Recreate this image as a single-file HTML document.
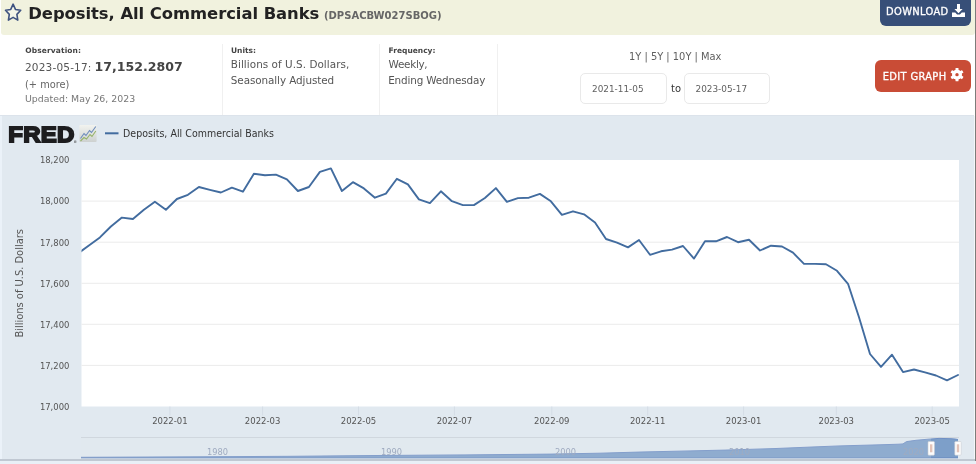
<!DOCTYPE html>
<html><head><meta charset="utf-8"><title>Deposits, All Commercial Banks</title>
<style>
html,body{margin:0;padding:0;}
body{width:976px;height:464px;overflow:hidden;background:#fff;position:relative;font-family:"DejaVu Sans","Liberation Sans",sans-serif;color:#333;}
.abs{position:absolute;}
#hdr{left:1px;top:0;width:974px;height:34.5px;background:#f1f2de;border-radius:0 0 3px 3px;}
#dl{left:879.5px;top:0;width:91px;height:25.8px;background:#374f78;border-radius:0 0 6px 6px;}
#eg{left:875px;top:60px;width:95.5px;height:32px;background:#c94c36;border-radius:6px;}
.vdiv{position:absolute;top:44px;width:1px;height:72px;background:#f0f0f0;}
.inp{position:absolute;top:73px;height:29px;border:1px solid #e9e9e9;border-radius:5px;background:#fff;box-sizing:content-box;}
#chart{left:0;top:115.2px;width:974px;height:344.3px;background:#e1e9f0;}
</style></head><body>
<div class="abs" id="hdr"></div>
<div class="abs" id="dl"></div>
<div class="abs" id="eg"></div>
<div class="vdiv" style="left:222px"></div>
<div class="vdiv" style="left:378.5px"></div>
<div class="vdiv" style="left:497px"></div>
<div class="inp" style="left:580px;width:84.5px"></div>
<div class="inp" style="left:683.5px;width:84px"></div>
<div class="abs" id="chart"></div>
<div class="abs" style="left:0;top:115.4px;width:974px;height:1px;background:#dce3eb"></div>
<svg class="abs" id="svg" style="left:0;top:0" width="976" height="464" viewBox="0 0 976 464">
<path id="star" transform="translate(13.1,13.0)" d="M0.00 -8.80 L2.35 -3.56 L7.61 -2.72 L3.80 1.36 L4.70 7.12 L0.00 4.40 L-4.70 7.12 L-3.80 1.36 L-7.61 -2.72 L-2.35 -3.56 Z" fill="#f3f5e8" stroke="#3f5380" stroke-width="1.6" stroke-linejoin="round"/>
<g id="dlicon" transform="translate(952,4)" fill="#fff"><path d="M5 0h3v5h2.6L6.5 9.2 2.4 5H5z"/><path d="M0 8.6h3.2l1.9 1.9h2.8l1.9-1.9H13V13H0z"/></g>
<g id="gear" transform="translate(957,74.65)"><g fill="#fff"><circle r="5"/><rect x="-1.5" y="-6.7" width="3" height="13.4" rx="0.5"/><rect x="-1.5" y="-6.7" width="3" height="13.4" rx="0.5" transform="rotate(60)"/><rect x="-1.5" y="-6.7" width="3" height="13.4" rx="0.5" transform="rotate(120)"/></g><circle r="1.7" fill="#c94c36"/></g>
<g id="ficon"><defs><linearGradient id="fg" x1="0" y1="0" x2="0" y2="1"><stop offset="0" stop-color="#f2f3ef"/><stop offset="1" stop-color="#cdd1d0"/></linearGradient></defs><rect x="79.3" y="124.9" width="17.3" height="17.2" rx="1" fill="url(#fg)"/><polyline points="80.5,138.5 84,133.5 86,135.5 89.5,130.5 91.5,132.5 95.8,126.5" fill="none" stroke="#6d8cbb" stroke-width="1.1"/><polyline points="80.5,141 84,137.5 86.5,139 90,134.5 92,136.5 95.8,131" fill="none" stroke="#96b36a" stroke-width="1.1"/></g>
<rect x="81.5" y="160" width="877.5" height="246.5" fill="#fff"/>
<rect x="81.5" y="200.6" width="877.5" height="1" fill="#ebebeb"/><rect x="81.5" y="241.7" width="877.5" height="1" fill="#ebebeb"/><rect x="81.5" y="282.8" width="877.5" height="1" fill="#ebebeb"/><rect x="81.5" y="323.8" width="877.5" height="1" fill="#ebebeb"/><rect x="81.5" y="364.9" width="877.5" height="1" fill="#ebebeb"/>
<text x="69.4" y="163.3" text-anchor="end" id="yl0" style='font-family:"DejaVu Sans Condensed","Liberation Sans",sans-serif;font-size:9.4px;font-weight:normal;fill:#555;'>18,200</text>
<text x="69.4" y="204.4" text-anchor="end" id="yl1" style='font-family:"DejaVu Sans Condensed","Liberation Sans",sans-serif;font-size:9.4px;font-weight:normal;fill:#555;'>18,000</text>
<text x="69.4" y="245.5" text-anchor="end" id="yl2" style='font-family:"DejaVu Sans Condensed","Liberation Sans",sans-serif;font-size:9.4px;font-weight:normal;fill:#555;'>17,800</text>
<text x="69.4" y="286.6" text-anchor="end" id="yl3" style='font-family:"DejaVu Sans Condensed","Liberation Sans",sans-serif;font-size:9.4px;font-weight:normal;fill:#555;'>17,600</text>
<text x="69.4" y="327.6" text-anchor="end" id="yl4" style='font-family:"DejaVu Sans Condensed","Liberation Sans",sans-serif;font-size:9.4px;font-weight:normal;fill:#555;'>17,400</text>
<text x="69.4" y="368.7" text-anchor="end" id="yl5" style='font-family:"DejaVu Sans Condensed","Liberation Sans",sans-serif;font-size:9.4px;font-weight:normal;fill:#555;'>17,200</text>
<text x="69.4" y="409.8" text-anchor="end" id="yl6" style='font-family:"DejaVu Sans Condensed","Liberation Sans",sans-serif;font-size:9.4px;font-weight:normal;fill:#555;'>17,000</text>

<rect x="169.4" y="406.5" width="1" height="9" fill="#d5dde6"/><text x="169.9" y="424.4" text-anchor="middle" id="xl0" style='font-family:"DejaVu Sans Condensed","Liberation Sans",sans-serif;font-size:9.45px;font-weight:normal;fill:#555;'>2022-01</text>
<rect x="262.1" y="406.5" width="1" height="9" fill="#d5dde6"/><text x="262.6" y="424.4" text-anchor="middle" id="xl1" style='font-family:"DejaVu Sans Condensed","Liberation Sans",sans-serif;font-size:9.45px;font-weight:normal;fill:#555;'>2022-03</text>
<rect x="358.0" y="406.5" width="1" height="9" fill="#d5dde6"/><text x="358.5" y="424.4" text-anchor="middle" id="xl2" style='font-family:"DejaVu Sans Condensed","Liberation Sans",sans-serif;font-size:9.45px;font-weight:normal;fill:#555;'>2022-05</text>
<rect x="453.9" y="406.5" width="1" height="9" fill="#d5dde6"/><text x="454.4" y="424.4" text-anchor="middle" id="xl3" style='font-family:"DejaVu Sans Condensed","Liberation Sans",sans-serif;font-size:9.45px;font-weight:normal;fill:#555;'>2022-07</text>
<rect x="551.3" y="406.5" width="1" height="9" fill="#d5dde6"/><text x="551.8" y="424.4" text-anchor="middle" id="xl4" style='font-family:"DejaVu Sans Condensed","Liberation Sans",sans-serif;font-size:9.45px;font-weight:normal;fill:#555;'>2022-09</text>
<rect x="647.2" y="406.5" width="1" height="9" fill="#d5dde6"/><text x="647.7" y="424.4" text-anchor="middle" id="xl5" style='font-family:"DejaVu Sans Condensed","Liberation Sans",sans-serif;font-size:9.45px;font-weight:normal;fill:#555;'>2022-11</text>
<rect x="743.1" y="406.5" width="1" height="9" fill="#d5dde6"/><text x="743.6" y="424.4" text-anchor="middle" id="xl6" style='font-family:"DejaVu Sans Condensed","Liberation Sans",sans-serif;font-size:9.45px;font-weight:normal;fill:#555;'>2023-01</text>
<rect x="835.8" y="406.5" width="1" height="9" fill="#d5dde6"/><text x="836.3" y="424.4" text-anchor="middle" id="xl7" style='font-family:"DejaVu Sans Condensed","Liberation Sans",sans-serif;font-size:9.45px;font-weight:normal;fill:#555;'>2023-03</text>
<rect x="931.7" y="406.5" width="1" height="9" fill="#d5dde6"/><text x="932.2" y="424.4" text-anchor="middle" id="xl8" style='font-family:"DejaVu Sans Condensed","Liberation Sans",sans-serif;font-size:9.45px;font-weight:normal;fill:#555;'>2023-05</text>

<clipPath id="cp"><rect x="81.5" y="160" width="877.5" height="246.5"/></clipPath>
<polyline clip-path="url(#cp)" points="77.9,253.5 88.9,245.5 99.9,237.4 110.9,226.5 121.9,217.6 132.9,219.0 143.9,209.8 154.9,201.7 165.9,209.8 176.9,199.0 187.9,194.8 198.9,187.0 209.9,189.8 220.9,192.5 231.9,187.6 242.9,191.7 253.9,173.8 264.9,175.3 275.9,174.6 286.9,179.3 297.9,191.0 308.9,187.0 319.9,171.9 330.9,168.4 341.9,191.0 352.9,182.2 363.9,188.4 374.9,197.7 385.9,193.6 396.9,178.8 407.9,184.4 418.9,199.4 429.9,203.1 440.9,191.3 451.9,201.2 462.9,205.1 473.9,205.1 484.9,198.0 495.9,188.1 506.9,201.9 517.9,198.1 528.9,197.7 539.9,193.9 550.9,201.3 561.9,214.8 573.0,211.3 584.0,214.3 595.0,222.4 606.0,239.0 617.0,242.6 628.0,247.4 639.0,240.0 650.0,254.8 661.0,251.3 672.0,249.6 683.0,246.0 694.0,258.6 705.0,241.2 716.0,241.3 727.0,237.0 738.0,242.2 749.0,239.8 760.0,250.5 771.0,245.7 782.0,246.5 793.0,252.7 804.0,263.8 815.0,263.9 826.0,264.3 837.0,270.8 848.0,283.8 859.0,317.3 870.0,354.0 881.0,366.9 892.0,354.7 903.0,372.1 914.0,369.5 925.0,372.4 936.0,375.5 947.0,380.3 958.0,375.0" fill="none" stroke="#426c9f" stroke-width="1.9" stroke-linejoin="round" stroke-linecap="round"/>
<rect x="105" y="132.3" width="13.5" height="2" fill="#426c9f"/>
<rect x="81" y="437" width="878" height="1" fill="#cfd6dd"/>
<polygon points="81,457.3 203,456.8 290,456.3 377,455.5 464,454.9 551,454.1 600,453.2 638,452.1 690,450.9 725,450.1 776,448.5 812,447.0 840,445.9 880,444.8 899,444.2 903,443.9 906.5,441.6 916,440.3 928,439.2 939,438.4 951,438.7 955,439.0 958,439.5 958,458 81,458" fill="#7d9fc9"/>
<polyline points="81,457.3 203,456.8 290,456.3 377,455.5 464,454.9 551,454.1 600,453.2 638,452.1 690,450.9 725,450.1 776,448.5 812,447.0 840,445.9 880,444.8 899,444.2 903,443.9 906.5,441.6 916,440.3 928,439.2 939,438.4 951,438.7 955,439.0 958,439.5" fill="none" stroke="#6f8fc4" stroke-width="1"/>
<rect x="81" y="457.4" width="877" height="0.9" fill="#6b8cc0"/>
<rect x="81" y="437.5" width="850" height="21" fill="#e1e9f0" opacity="0.18"/>
<text x="207.0" y="455.3" id="nv1980" style='font-family:"DejaVu Sans Condensed","Liberation Sans",sans-serif;font-size:9.2px;font-weight:normal;fill:#9fabc0;'>1980</text>
<text x="381.0" y="455.3" id="nv1990" style='font-family:"DejaVu Sans Condensed","Liberation Sans",sans-serif;font-size:9.2px;font-weight:normal;fill:#9fabc0;'>1990</text>
<text x="555.0" y="455.3" id="nv2000" style='font-family:"DejaVu Sans Condensed","Liberation Sans",sans-serif;font-size:9.2px;font-weight:normal;fill:#9fabc0;'>2000</text>
<text x="729.0" y="455.3" id="nv2010" style='font-family:"DejaVu Sans Condensed","Liberation Sans",sans-serif;font-size:9.2px;font-weight:normal;fill:#9fabc0;'>2010</text>
<text x="903.0" y="455.3" id="nv2020" style='font-family:"DejaVu Sans Condensed","Liberation Sans",sans-serif;font-size:9.2px;font-weight:normal;fill:#9fabc0;'>2020</text>
<rect x="928.0" y="441.5" width="6.4" height="13.7" rx="0.8" fill="#fdfdfd" stroke="#c9ccd2" stroke-width="0.6"/><rect x="930.0" y="444.3" width="2.4" height="8" fill="#e2c3b8"/><rect x="954.8" y="441.5" width="6.4" height="13.7" rx="0.8" fill="#fdfdfd" stroke="#c9ccd2" stroke-width="0.6"/><rect x="956.8" y="444.3" width="2.4" height="8" fill="#e2c3b8"/>
<text x="28.3" y="18.7" id="title" style='font-family:"DejaVu Sans","Liberation Sans",sans-serif;font-size:16.4px;font-weight:bold;fill:#222;letter-spacing:-0.05px;'>Deposits, All Commercial Banks</text>
<text x="324" y="18.7" id="sid" style='font-family:"DejaVu Sans","Liberation Sans",sans-serif;font-size:10px;font-weight:bold;fill:#666;'>(DPSACBW027SBOG)</text>
<text x="886" y="15.3" id="dltxt" style='font-family:"DejaVu Sans Condensed","Liberation Sans",sans-serif;font-size:11px;font-weight:normal;fill:#fff;letter-spacing:0.36px;stroke:#fff;stroke-width:0.3px;'>DOWNLOAD</text>
<text x="882.7" y="80" id="egtxt" style='font-family:"DejaVu Sans Condensed","Liberation Sans",sans-serif;font-size:11px;font-weight:normal;fill:#fff;letter-spacing:0.35px;stroke:#fff;stroke-width:0.3px;'>EDIT GRAPH</text>
<text x="25.3" y="53.4" id="l1" style='font-family:"DejaVu Sans","Liberation Sans",sans-serif;font-size:7.5px;font-weight:bold;fill:#444;letter-spacing:0.1px;'>Observation:</text>
<text x="25.0" y="71" id="v1a" style='font-family:"DejaVu Sans","Liberation Sans",sans-serif;font-size:10.5px;font-weight:normal;fill:#555;letter-spacing:0.18px;'>2023-05-17:</text>
<text x="94.6" y="71" id="v1b" style='font-family:"DejaVu Sans","Liberation Sans",sans-serif;font-size:12.55px;font-weight:bold;fill:#444;'>17,152.2807</text>
<text x="25" y="87.6" id="v1c" style='font-family:"DejaVu Sans","Liberation Sans",sans-serif;font-size:9.8px;font-weight:normal;fill:#666;'>(+ more)</text>
<text x="25" y="102.4" id="v1d" style='font-family:"DejaVu Sans","Liberation Sans",sans-serif;font-size:9.4px;font-weight:normal;fill:#777;'>Updated: May 26, 2023</text>
<text x="231" y="53.4" id="l2" style='font-family:"DejaVu Sans","Liberation Sans",sans-serif;font-size:7.5px;font-weight:bold;fill:#444;'>Units:</text>
<text x="230.8" y="68.2" id="v2a" style='font-family:"DejaVu Sans","Liberation Sans",sans-serif;font-size:10.4px;font-weight:normal;fill:#555;letter-spacing:0.05px;'>Billions of U.S. Dollars,</text>
<text x="230.8" y="84.2" id="v2b" style='font-family:"DejaVu Sans","Liberation Sans",sans-serif;font-size:10.4px;font-weight:normal;fill:#555;letter-spacing:-0.08px;'>Seasonally Adjusted</text>
<text x="388.6" y="53.4" id="l3" style='font-family:"DejaVu Sans","Liberation Sans",sans-serif;font-size:7.5px;font-weight:bold;fill:#444;'>Frequency:</text>
<text x="388.6" y="68.2" id="v3a" style='font-family:"DejaVu Sans","Liberation Sans",sans-serif;font-size:10.4px;font-weight:normal;fill:#555;letter-spacing:-0.29px;'>Weekly,</text>
<text x="388.2" y="84.2" id="v3b" style='font-family:"DejaVu Sans","Liberation Sans",sans-serif;font-size:10.4px;font-weight:normal;fill:#555;letter-spacing:-0.14px;'>Ending Wednesday</text>
<text x="629" y="59.9" id="rng" style='font-family:"DejaVu Sans","Liberation Sans",sans-serif;font-size:9.9px;font-weight:normal;fill:#606060;'>1Y | 5Y | 10Y | Max</text>
<text x="592" y="92" id="d1" style='font-family:"DejaVu Sans","Liberation Sans",sans-serif;font-size:8.9px;font-weight:normal;fill:#606060;'>2021-11-05</text>
<text x="671" y="92" id="to" style='font-family:"DejaVu Sans Condensed","Liberation Sans",sans-serif;font-size:11px;font-weight:normal;fill:#333;'>to</text>
<text x="695.5" y="92" id="d2" style='font-family:"DejaVu Sans","Liberation Sans",sans-serif;font-size:8.9px;font-weight:normal;fill:#606060;'>2023-05-17</text>
<text x="123" y="137.4" id="leg" style='font-family:"DejaVu Sans Condensed","Liberation Sans",sans-serif;font-size:10.5px;font-weight:normal;fill:#333;letter-spacing:0.04px;'>Deposits, All Commercial Banks</text>
<text transform="translate(23.2,283.3) rotate(-90)" text-anchor="middle" id="ytitle" style='font-family:"DejaVu Sans Condensed","Liberation Sans",sans-serif;font-size:11px;fill:#555'>Billions of U.S. Dollars</text>
<text id="fred" transform="translate(8.3,141.6) scale(1.063,1)" style='font-family:"Liberation Sans","DejaVu Sans",sans-serif;font-size:22.6px;font-weight:bold;fill:#1d1d1f;stroke:#1d1d1f;stroke-width:1.8px;letter-spacing:0.25px'>FRED</text>
<text x="73.6" y="142.8" id="reg" style='font-family:"DejaVu Sans","Liberation Sans",sans-serif;font-size:3.5px;font-weight:normal;fill:#333;'>®</text>

</svg>
<div class="abs" style="left:0;top:115.5px;width:1.5px;height:344px;background:#ebf2f9"></div>
<div class="abs" style="left:974px;top:115.5px;width:1px;height:345px;background:#f4f7fa"></div>
<div class="abs" style="left:0;top:459.4px;width:975px;height:1.4px;background:#c0c8d2"></div>
<div class="abs" style="left:0;top:460.8px;width:976px;height:3.2px;background:#e8eff6"></div>
<div class="abs" style="left:975px;top:0;width:1px;height:461px;background:#7d7d7a"></div>
</body></html>
